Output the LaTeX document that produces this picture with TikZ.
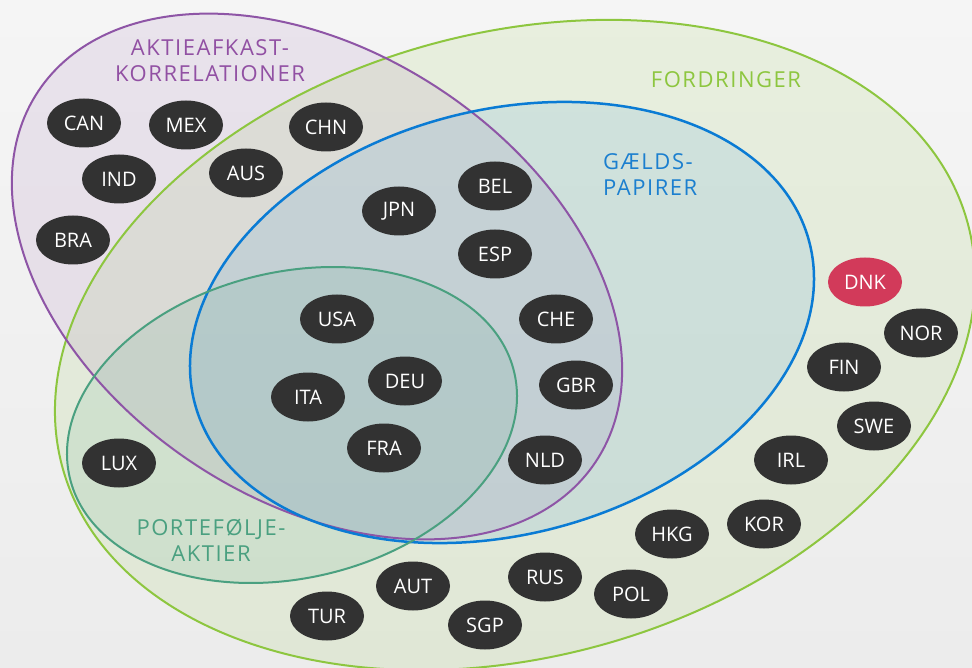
\documentclass[tikz,border=0pt]{standalone}
\usepackage{fontspec}
\setmainfont{Open Sans}
\newfontfamily\labelfont[LetterSpace=7]{Open Sans}
\usetikzlibrary{shapes.geometric}
\definecolor{bgtop}{HTML}{F5F5F5}
\definecolor{bgbot}{HTML}{ECECEC}
\definecolor{cpurple}{HTML}{8E55A6}
\definecolor{cgreen}{HTML}{8DC63F}
\definecolor{cblue}{HTML}{0A7BD4}
\definecolor{cteal}{HTML}{4AA080}
\definecolor{lpurple}{HTML}{9150A3}
\definecolor{lblue}{HTML}{1B7FCF}
\definecolor{cnode}{HTML}{323232}
\definecolor{cred}{HTML}{D23A5A}
\tikzset{
  country/.style={ellipse, fill=cnode, text=white, minimum width=74pt, minimum height=49pt, inner sep=0pt, font=\fontsize{20}{20}\selectfont},
  setline/.style={line width=2pt},
  setlabel/.style={font=\labelfont\fontsize{22}{26}\selectfont, align=center, inner sep=0pt},
}
\begin{document}
\begin{tikzpicture}[x=1pt,y=-1pt]
\useasboundingbox (0,0) rectangle (972,668);
\shade[top color=bgtop, bottom color=bgbot] (0,0) rectangle (972,668);
% fills
\fill[cgreen, fill opacity=0.12, rotate around={15:(515,345)}] (515,345) ellipse [x radius=468.8pt, y radius=312.2pt];
\fill[cpurple, fill opacity=0.11, rotate around={-33.6:(317,276.5)}] (317,276.5) ellipse [x radius=334.7pt, y radius=224pt];
\fill[cblue, fill opacity=0.10, rotate around={14.7:(502,322.5)}] (502,322.5) ellipse [x radius=317.7pt, y radius=212.2pt];
\fill[cteal, fill opacity=0.12, rotate around={13.4:(292,425)}] (292,425) ellipse [x radius=228.4pt, y radius=153pt];
% outlines
\draw[setline, cgreen, rotate around={15:(515,345)}] (515,345) ellipse [x radius=468.8pt, y radius=312.2pt];
\draw[setline, cpurple, rotate around={-33.6:(317,276.5)}] (317,276.5) ellipse [x radius=334.7pt, y radius=224pt];
\draw[setline, cblue, line width=2.5pt, rotate around={14.7:(502,322.5)}] (502,322.5) ellipse [x radius=317.7pt, y radius=212.2pt];
\draw[setline, cteal, rotate around={13.4:(292,425)}] (292,425) ellipse [x radius=228.4pt, y radius=153pt];
% set labels
\node[setlabel, text=lpurple] (lakt) at (210,61) {AKTIEAFKAST-\\KORRELATIONER};
\node[setlabel, text=cgreen] (lfor) at (726,80) {FORDRINGER};
\node[setlabel, text=lblue, align=left, anchor=west] (lgld) at (603,175) {GÆLDS-\\PAPIRER};
\node[setlabel, text=cteal] (lport) at (211,540) {PORTEFØLJE-\\AKTIER};
% countries
\node[country] (can) at (84,123) {CAN};
\node[country] (mex) at (186,125) {MEX};
\node[country] (chn) at (326,127) {CHN};
\node[country] (ind) at (119,179) {IND};
\node[country] (aus) at (246,173) {AUS};
\node[country] (bra) at (73,240) {BRA};
\node[country] (jpn) at (399,211) {JPN};
\node[country] (bel) at (495,186) {BEL};
\node[country] (esp) at (495,254) {ESP};
\node[country] (usa) at (337,319) {USA};
\node[country] (che) at (556,319) {CHE};
\node[country] (ita) at (308,397) {ITA};
\node[country] (deu) at (405,381) {DEU};
\node[country] (gbr) at (576,385) {GBR};
\node[country] (fra) at (384,448) {FRA};
\node[country] (nld) at (545,460) {NLD};
\node[country] (lux) at (119,463) {LUX};
\node[country, fill=cred] (dnk) at (865,282) {DNK};
\node[country] (nor) at (921,333) {NOR};
\node[country] (fin) at (844,367) {FIN};
\node[country] (swe) at (874,426) {SWE};
\node[country] (irl) at (791,460) {IRL};
\node[country] (kor) at (764,524) {KOR};
\node[country] (hkg) at (672,534) {HKG};
\node[country] (rus) at (545,577) {RUS};
\node[country] (pol) at (631,594) {POL};
\node[country] (aut) at (413,586) {AUT};
\node[country] (tur) at (327,616) {TUR};
\node[country] (sgp) at (485,625) {SGP};
\end{tikzpicture}
\end{document}
